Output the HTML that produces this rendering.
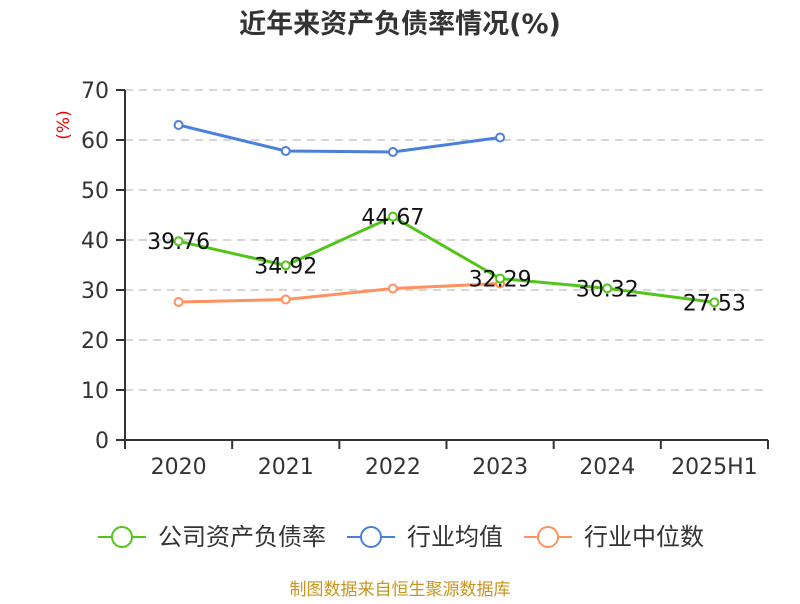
<!DOCTYPE html>
<html><head><meta charset="utf-8"><style>
body{margin:0;background:#fff;font-family:"DejaVu Sans","Noto Sans CJK SC",sans-serif}
</style></head><body>
<svg id="c" width="800" height="600" xmlns="http://www.w3.org/2000/svg" font-family="DejaVu Sans, Noto Sans CJK SC, sans-serif">
<text x="400" y="33" text-anchor="middle" font-size="27" font-weight="bold" fill="#333">近年来资产负债率情况(%)</text>
<text transform="translate(69,125) rotate(-90)" text-anchor="middle" font-size="17" fill="#e00">(%)</text>
<g id="grid"></g><g id="axes"></g><g id="series"></g>
<g>
<g><line x1="98" y1="537" x2="146" y2="537" stroke="#52c41a" stroke-width="2"/><circle cx="122" cy="537" r="10" fill="#fff" stroke="#52c41a" stroke-width="2"/><text x="158" y="545" font-size="24" fill="#333">公司资产负债率</text></g>
<g><line x1="347" y1="537" x2="395" y2="537" stroke="#4a7fdc" stroke-width="2"/><circle cx="371" cy="537" r="10" fill="#fff" stroke="#4a7fdc" stroke-width="2"/><text x="407" y="545" font-size="24" fill="#333">行业均值</text></g>
<g><line x1="524" y1="537" x2="572" y2="537" stroke="#ff9060" stroke-width="2"/><circle cx="548" cy="537" r="10" fill="#fff" stroke="#ff9060" stroke-width="2"/><text x="584" y="545" font-size="24" fill="#333">行业中位数</text></g>
</g>
<text x="400" y="595" text-anchor="middle" font-size="17" fill="#c8961e">制图数据来自恒生聚源数据库</text>
</svg>
<script>
const categories=["2020","2021","2022","2023","2024","2025H1"];
const company=[39.76,34.92,44.67,32.29,30.32,27.53];
const companyLabels=["39.76","34.92","44.67","32.29","30.32","27.53"];
const industryAvg=[63.0,57.8,57.6,60.5,null,null];
const industryMedian=[27.6,28.1,30.3,31.3,null,null];
const yTicks=[0,10,20,30,40,50,60,70];
const NS="http://www.w3.org/2000/svg";
const L=125,R=768,T=90,B=440,yMax=70;
const bw=(R-L)/categories.length;
const x=i=>L+bw*(i+0.5);
const y=v=>B-(v/yMax)*(B-T);
function mk(tag,attrs,parent){const e=document.createElementNS(NS,tag);for(const k in attrs)e.setAttribute(k,attrs[k]);parent.appendChild(e);return e;}
const grid=document.getElementById('grid'),axes=document.getElementById('axes'),ser=document.getElementById('series');
yTicks.forEach(t=>{
 if(t>0){const g=mk('line',{x1:L,x2:R,y1:y(t),y2:y(t),stroke:'#c8c8c8','stroke-dasharray':'8,6','stroke-width':1.5},grid);
 
 }
 const tk=mk('line',{x1:L-9,x2:L,y1:y(t),y2:y(t),stroke:'#333','stroke-width':2},axes);
 
 
 const tx=mk('text',{x:L-16,y:y(t)+8,'text-anchor':'end','font-size':22,fill:'#333'},axes);tx.textContent=t;
 
 
});
const ya=mk('line',{x1:L,x2:L,y1:T,y2:B,stroke:'#333','stroke-width':2},axes);


const xa=mk('line',{x1:L,x2:R,y1:B,y2:B,stroke:'#333','stroke-width':2},axes);


for(let i=0;i<=categories.length;i++){const t=mk('line',{x1:L+bw*i,x2:L+bw*i,y1:B,y2:B+9,stroke:'#333','stroke-width':2},axes);
 
 }
categories.forEach((c,i)=>{const t=mk('text',{x:x(i),y:B+34,'text-anchor':'middle','font-size':22,fill:'#333'},axes);t.textContent=c;
 
 });
function series(vals,color,name,labels){
 const g=mk('g',{},ser);
 
 
 const pts=vals.map((v,i)=>v==null?null:[x(i),y(v)]).filter(p=>p);
 mk('polyline',{points:pts.map(p=>p.join(',')).join(' '),fill:'none',stroke:color,'stroke-width':3},g);
 vals.forEach((v,i)=>{if(v==null)return;const c=mk('circle',{cx:x(i),cy:y(v),r:4,fill:'#fff',stroke:color,'stroke-width':2},g);
  
  
  if(labels){const t=mk('text',{x:x(i),y:y(v)+8,'text-anchor':'middle','font-size':22,fill:'#111'},g);t.textContent=labels[i];
   
   }});
}
series(industryAvg,'#4a7fdc','industry-avg-line');
series(industryMedian,'#ff9060','industry-median-line');
series(company,'#52c41a','company-line',companyLabels);
</script>
</body></html>
